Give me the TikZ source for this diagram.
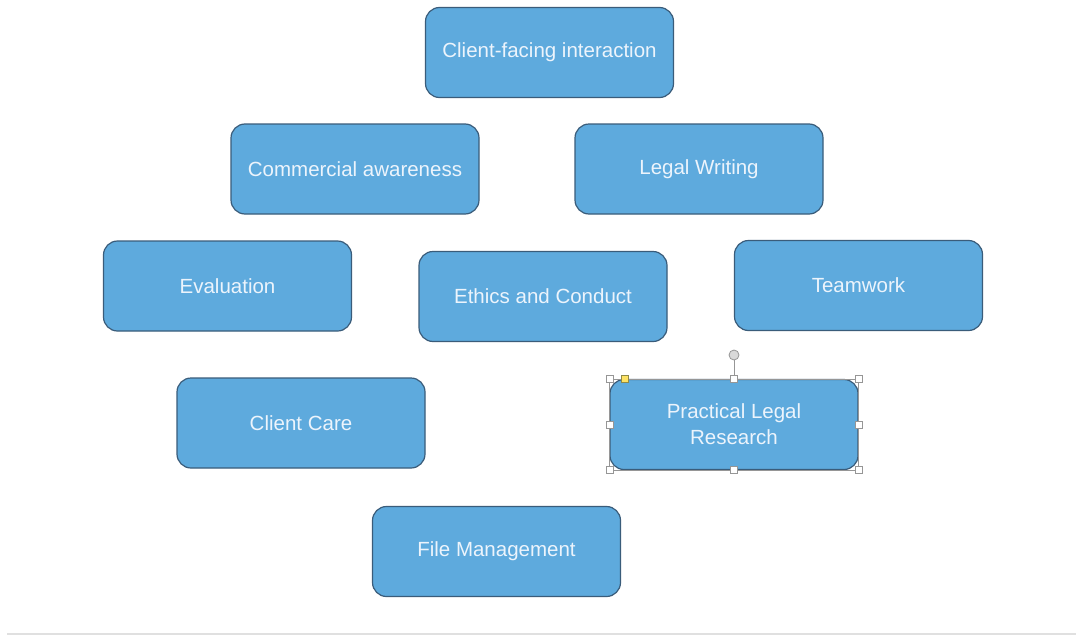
\documentclass[tikz,border=0pt]{standalone}
\usepackage{fontspec}
\setmainfont{Liberation Sans}
\usepackage{tikz}
\usetikzlibrary{positioning}

\definecolor{boxfill}{RGB}{94,170,221}
\definecolor{boxline}{RGB}{58,92,122}
\definecolor{boxtext}{RGB}{236,244,252}
\definecolor{handleline}{RGB}{150,150,150}

\tikzset{
  skill/.style={draw=boxline, line width=1.2pt, fill=boxfill, rounded corners=14pt,
    minimum width=248pt, minimum height=90pt, inner sep=0pt, align=center,
    text=boxtext, font=\fontsize{20.5}{26}\selectfont},
  handle/.style={draw=handleline, fill=white, line width=0.6pt, minimum size=7pt, inner sep=0pt}
}

\begin{document}
\begin{tikzpicture}[x=1pt,y=-1pt]
  \useasboundingbox[fill=white] (0,0) rectangle (1076,637);

  \draw (549.5,52.5) node[skill] (client) {Client-facing interaction};

  \draw (355,169) node[skill] (commercial) {Commercial awareness};
  \draw (699,169) node[skill] (writing) {Legal Writing};

  \draw (227.5,286) node[skill] (evaluation) {Evaluation};
  \draw (543,296.5) node[skill] (ethics) {Ethics and Conduct};
  \draw (858.5,285.5) node[skill] (teamwork) {Teamwork};

  \draw (301,423) node[skill] (care) {Client Care};
  \draw (734,424.5) node[skill] (research) {Practical Legal\\Research};

  \draw (496.5,551.5) node[skill] (files) {File Management};

  % selection frame round the research box
  \draw[handleline, line width=0.4pt] (research.north west) rectangle (research.south east);
  \draw (734,355) node[circle, draw=handleline, fill=black!15, line width=0.8pt, minimum size=10pt, inner sep=0pt] (rotate) {};
  \draw[handleline, line width=0.8pt] (rotate) -- (research.north);
  \foreach \a in {north west,north,north east,west,east,south west,south,south east}
    \node[handle] at (research.\a) {};
  \node[handle, fill=yellow!70!orange!60, draw=yellow!50!black] at ([xshift=15pt]research.north west) {};

  % line along the bottom
  \draw[black!12, line width=1.5pt] (7,634) -- (1076,634);
\end{tikzpicture}
\end{document}
